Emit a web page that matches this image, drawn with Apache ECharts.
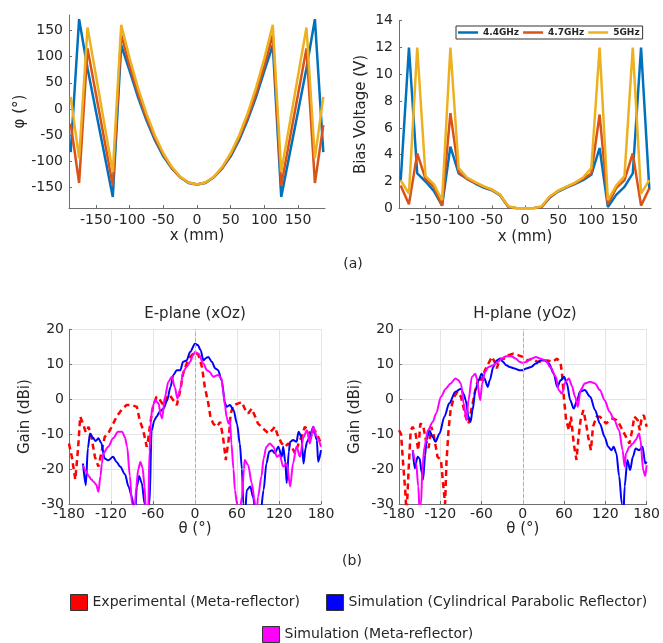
<!DOCTYPE html>
<html><head><meta charset="utf-8">
<script src="https://cdn.jsdelivr.net/npm/echarts@6/dist/echarts.min.js"></script>
<style>html,body{margin:0;padding:0;background:#fff}#c{width:663px;height:643px}</style>
</head><body><div id="c"></div>
<script>
// ---------- (a) element positions (mm) ----------
const posX = [-187.5,-175,-162.5,-150,-137.5,-125,-112.5,-100,-87.5,-75,-62.5,-50,-37.5,-25,-12.5,0,12.5,25,37.5,50,62.5,75,87.5,100,112.5,125,137.5,150,162.5,175,187.5];
// phase (deg)
const phase44 = [-83,172,78,-5,-87,-169,122,73,22,-22,-60,-91,-114,-131,-142,-145,-142,-131,-114,-91,-60,-22,22,73,122,-169,-87,-5,78,172,-83];
const phase47 = [-28,-142,116,28,-59,-147,142,82,29,-17,-56,-88,-113,-131,-141,-145,-141,-131,-113,-88,-56,-17,29,82,142,-147,-59,28,116,-142,-31];
const phase50 = [23,-95,156,64,-29,-121,161,97,40,-9,-51,-85,-111,-130,-141,-145,-141,-130,-111,-85,-51,-9,40,97,161,-121,-29,64,156,-95,23];
// bias voltage (V)
const bias44 = [2.0,12,2.6,2.0,1.3,0.2,4.6,2.6,2.2,1.85,1.55,1.35,0.95,0.1,0,0,0,0.1,0.8,1.25,1.55,1.8,2.1,2.5,4.5,0.1,1.0,1.6,2.6,12,1.4];
const bias47 = [1.7,0.3,4.1,2.2,1.6,0.2,7.1,2.7,2.2,1.9,1.6,1.4,1.0,0.1,0,0,0,0.1,0.85,1.3,1.6,1.85,2.2,2.6,7.0,0.3,1.5,2.1,4.1,0.2,1.5];
const bias50 = [2.1,1.1,12,2.4,1.8,0.6,12,3.0,2.3,1.95,1.65,1.4,1.0,0.15,0,0,0,0.15,0.9,1.3,1.6,1.9,2.3,3.0,12,0.6,1.7,2.4,12,1.1,2.1];
const freqNames = ['4.4GHz','4.7GHz','5GHz'];
const xmmTicks = [-150,-100,-50,0,50,100,150];
const phaseTicks = [-150,-100,-50,0,50,100,150];

// ---------- (b) radiation patterns: [theta (deg), gain (dBi)] ----------
const eExp = [[-180,-12.7],[-176,-16.5],[-171,-23],[-167,-14],[-164,-5],[-160,-7],[-156,-9.5],[-152,-7.9],[-148,-10.8],[-143,-16.5],[-138,-19.3],[-133,-14.6],[-129,-10.8],[-124,-9.8],[-119,-7.9],[-112,-5],[-105,-3.1],[-98,-1.7],[-90,-1.7],[-83,-2.2],[-79,-6],[-74,-8.9],[-69,-13.6],[-67,-11.7],[-64,-7],[-60,-2.2],[-55,0.7],[-50,-0.3],[-45,-1.7],[-40,0.7],[-36,1.1],[-31,-0.3],[-26,-1.7],[-21,2.6],[-17,7.3],[-12,10.2],[-7,12.1],[0,13.5],[5,12.6],[10,9.2],[14,3.5],[19,-1.2],[22,-5],[26,-7],[31,-7.9],[36,-6.5],[40,-10.8],[44,-17.4],[48,-11.7],[51,-4.1],[55,-1.7],[62,-1.2],[67,-0.8],[71,-2.7],[76,-4.1],[81,-2.7],[86,-5],[90,-7],[95,-7.9],[100,-8.9],[105,-9.8],[110,-8.9],[114,-7.9],[119,-10.8],[124,-12.7],[129,-13.6],[133,-12.7],[138,-13.6],[143,-15.5],[148,-12.7],[152,-10.8],[157,-7.9],[162,-8.9],[167,-10.8],[171,-8.9],[176,-10.8],[180,-12.7]];
const eCyl = [[-160,-18.4],[-156,-24.6],[-153,-14],[-150,-9.8],[-146,-11],[-142,-12],[-138,-11.2],[-134,-12.5],[-129,-17],[-124,-17.5],[-117,-16.5],[-112,-18],[-107,-19.3],[-100,-21.5],[-95,-25],[-90,-28],[-86,-34],[-83,-25],[-80,-22],[-76,-24],[-72,-30],[-69,-35],[-65,-30],[-62,-9],[-58,-6],[-55,-5],[-50,-3.5],[-45,-2.7],[-40,-0.5],[-35,3.5],[-31,6.9],[-26,8.3],[-21,8.3],[-17,10.7],[-12,11.1],[-7,13.5],[0,15.9],[4,15.5],[8,14],[12,11.1],[16,11.8],[19,12.1],[24,10.7],[29,8.8],[33,8.3],[38,5.4],[43,-1.2],[45,-2.2],[50,-1.7],[55,-3.1],[60,-7],[64,-12.7],[67,-20],[69,-30],[71,-35],[74,-26],[79,-25],[83,-28],[87,-33],[93,-34],[98,-26],[102,-18.4],[106,-15],[110,-14.6],[114,-15.5],[119,-13.6],[124,-16.5],[126,-13.6],[129,-18],[131,-24],[134,-15],[136,-12.2],[140,-11.7],[145,-12.2],[148,-9.3],[152,-10.8],[155,-18.4],[158,-14],[160,-12.2],[164,-10.8],[169,-7.9],[174,-11.7],[176,-17.9],[180,-14.6]];
const eMeta = [[-160,-18.9],[-156,-20.5],[-152,-22],[-148,-23],[-145,-23.6],[-141,-24.5],[-138,-26.5],[-135,-22],[-133,-18.4],[-131,-15.5],[-124,-13.6],[-117,-11.2],[-110,-9.3],[-104,-9.3],[-100,-11],[-97,-13.6],[-93,-22],[-90,-30],[-87,-36],[-84,-25],[-81,-20],[-78,-18],[-75,-19.5],[-72,-25],[-70,-33],[-67,-33],[-65,-15],[-63,-6],[-61,-2.5],[-57,-0.3],[-52,-1.2],[-49,-4.6],[-47,-5.5],[-43,0.7],[-38,5],[-33,6.4],[-29,3.5],[-25,0.2],[-21,3],[-17,7.8],[-12,9.2],[-7,10.7],[-3,12.5],[0,13.5],[5,13],[12,10.2],[17,8.3],[21,7.8],[26,6.4],[33,6.9],[38,5.9],[40,2.6],[43,-2],[45,-5],[48,-7],[50,-6],[52,-12.7],[55,-20],[57,-26],[60,-30],[63,-34],[67,-28],[70,-20],[71,-17.4],[76,-18.9],[81,-24],[86,-30],[88,-33],[90,-28],[95,-22],[98,-17],[102,-13.6],[107,-12.7],[112,-13.6],[117,-16.5],[121,-16],[126,-19.3],[131,-18.4],[136,-25],[140,-18.4],[145,-13.6],[150,-16.5],[155,-10.8],[160,-8.9],[164,-12.7],[169,-7.9],[174,-10.8],[180,-13.6]];
const hExp = [[-180,-8.9],[-177,-10],[-174,-18.4],[-171,-26],[-169,-33],[-166,-20],[-163,-8.9],[-160,-7.9],[-156,-9.8],[-152,-14.6],[-149,-7],[-145,-7.4],[-141,-11.7],[-137,-14],[-133,-7.9],[-129,-10.8],[-124,-16.5],[-119,-17.4],[-116,-24],[-113,-30],[-111,-18],[-108,-8.9],[-105,-3.1],[-100,0.7],[-95,2.1],[-90,0.7],[-83,-5],[-79,-7],[-74,-2.2],[-69,2.6],[-64,6.4],[-60,5.4],[-55,8.3],[-50,10.2],[-45,12.1],[-41,10.7],[-38,8.8],[-33,11.6],[-28,11.5],[-21,12.6],[-14,13],[-7,12.6],[0,12.1],[7,11.1],[14,11.6],[21,10.7],[29,10.7],[36,11.1],[43,10.7],[50,11.6],[55,10.2],[57,7.3],[60,-0.3],[63,-6],[67,-8.9],[70,-5],[74,-12.7],[78,-17.4],[81,-10.8],[84,-6],[88,-3.1],[92,-7],[95,-10.8],[99,-14.6],[102,-7.9],[107,-5],[112,-5],[117,-6],[121,-7],[126,-6],[131,-5.5],[136,-6],[140,-7],[145,-8.9],[150,-10.8],[155,-12.7],[159,-8.9],[162,-5],[167,-6],[170,-8.9],[173,-5],[176,-4.6],[180,-7.9]];
const hCyl = [[-160,-14.6],[-157,-19.8],[-153,-16.5],[-150,-17],[-147,-21],[-145,-23],[-142,-16],[-140,-11.7],[-136,-8.9],[-131,-10.8],[-127,-12.2],[-121,-9.8],[-114,-5],[-107,-1.2],[-98,2.1],[-90,3],[-86,1.5],[-83,-0.3],[-79,-5],[-76,-6.5],[-73,-3.1],[-69,2.6],[-64,5.4],[-60,7.3],[-56,6],[-51,3.5],[-48,5.4],[-43,9.2],[-38,11.1],[-33,11.6],[-29,10.7],[-24,9.7],[-19,9.2],[-12,8.8],[-5,8.3],[0,8.3],[5,8.8],[12,9.2],[19,10.2],[26,11.1],[33,11.1],[38,10.2],[45,7.3],[50,3.5],[55,5.4],[60,6.4],[64,4.5],[69,-0.3],[74,-2.7],[79,-0.3],[83,2.1],[90,2.6],[98,0.7],[105,-3.1],[112,-7],[119,-10.8],[124,-13.6],[129,-14.6],[132,-13.6],[136,-15.5],[140,-22],[144,-30],[146,-35],[148,-25],[152,-17.4],[156,-20.3],[160,-16.5],[164,-14.1],[169,-14.6],[174,-13.6],[178,-18.4],[180,-17.9]];
const hMeta = [[-160,-14.6],[-155,-18.4],[-152,-25],[-150,-32],[-148,-30],[-146,-20],[-143,-13.6],[-138,-8.9],[-131,-6.5],[-126,-4.1],[-119,0.7],[-112,3],[-105,4.5],[-98,5.9],[-94,5.5],[-90,4.5],[-86,-1.2],[-82,-6],[-79,-0.3],[-74,6.4],[-69,7.3],[-67,5.9],[-62,-0.3],[-59,4.5],[-55,7.8],[-50,9.2],[-43,9.7],[-36,10.7],[-31,11.6],[-24,12.3],[-17,12.3],[-10,11.6],[-5,10.7],[0,10.4],[5,10.7],[12,11.6],[19,12.1],[26,11.6],[33,11.1],[40,9.2],[48,6.4],[52,2.6],[57,1.6],[62,5],[67,5.9],[71,4],[76,0.7],[80,-2.2],[84,2.6],[90,4.5],[98,5],[105,4.5],[112,2.6],[119,-0.3],[126,-3.6],[133,-6],[140,-8.9],[145,-14.6],[148,-19.3],[150,-15.5],[155,-13.6],[160,-12.7],[164,-11.7],[169,-9.8],[171,-11.7],[175,-20.3],[178,-22],[180,-18.9]];
const patNames = ['Experimental (Meta-reflector)','Simulation (Cylindrical Parabolic Reflector)','Simulation (Meta-reflector)'];

const FONT = '"DejaVu Sans", sans-serif';
const TXT = '#262626';
const AX = '#6e6e6e';

function pairs(xs, ys){ return xs.map((x,i)=>[x, ys[i]]); }

function topX(gi){
  return {gridIndex:gi, type:'value', min:-190, max:190,
    axisLine:{show:true, onZero:false, lineStyle:{color:AX}},
    axisTick:{show:true, inside:true, length:3, customValues:xmmTicks, lineStyle:{color:AX}},
    axisLabel:{customValues:xmmTicks, fontSize:14, color:TXT, margin:5, fontFamily:FONT},
    splitLine:{show:false},
    name:'x (mm)', nameLocation:'middle', nameGap:21, nameTextStyle:{fontSize:15, color:TXT, fontFamily:FONT}};
}
function botX(gi){
  return {gridIndex:gi, type:'value', min:-180, max:180, interval:60,
    axisLine:{show:true, onZero:false, lineStyle:{color:AX}},
    axisTick:{show:true, inside:true, length:3, lineStyle:{color:AX}},
    axisLabel:{fontSize:14, color:TXT, margin:3, fontFamily:FONT},
    splitLine:{show:true, lineStyle:{color:'#e4e4e4', width:1}},
    name:'θ (°)', nameLocation:'middle', nameGap:18, nameTextStyle:{fontSize:15, color:TXT, fontFamily:FONT}};
}
function botY(gi){
  return {gridIndex:gi, type:'value', min:-30, max:20, interval:10,
    axisLine:{show:true, onZero:false, lineStyle:{color:AX}},
    axisTick:{show:true, inside:true, length:3, lineStyle:{color:AX}},
    axisLabel:{fontSize:14, color:TXT, margin:5, fontFamily:FONT},
    splitLine:{show:true, lineStyle:{color:'#e4e4e4', width:1}},
    name:'Gain (dBi)', nameLocation:'middle', nameGap:36, nameTextStyle:{fontSize:15, color:TXT, fontFamily:FONT}};
}
function line(name, gi, data, color, width, extra){
  return Object.assign({type:'line', name, xAxisIndex:gi, yAxisIndex:gi, data, symbol:'none',
    lineStyle:{color, width}, itemStyle:{color}, animation:false, clip:true}, extra||{});
}
const topColors = ['#0072BD','#D95319','#EDB120'];
const patColors = ['#FF0000','#0000FF','#FF00FF'];
const zeroMark = {silent:true, symbol:['none','none'], label:{show:false},
  lineStyle:{type:'dashed', color:'#b0b0b0', width:1}, data:[{xAxis:0}], animation:false};

const series = [];
[phase44, phase47, phase50].forEach((v,i)=>series.push(line(freqNames[i],0,pairs(posX,v),topColors[i],2.5)));
[bias44, bias47, bias50].forEach((v,i)=>series.push(line(freqNames[i],1,pairs(posX,v),topColors[i],2.5)));
[[eExp,eCyl,eMeta],[hExp,hCyl,hMeta]].forEach((set,k)=>{
  const gi = 2+k;
  series.push(line(patNames[0],gi,set[0],patColors[0],2.5,{lineStyle:{color:patColors[0],width:2.5,type:[6,4]}, markLine:zeroMark}));
  series.push(line(patNames[1],gi,set[1],patColors[1],2,{smooth:0.3, smoothMonotone:'x'}));
  series.push(line(patNames[2],gi,set[2],patColors[2],2,{smooth:0.3, smoothMonotone:'x'}));
});

const option = {
  backgroundColor:'#fff',
  textStyle:{fontFamily:FONT},
  grid:[
    {left:69, top:15, width:256, height:193},
    {left:399, top:20.7, width:252, height:187.6},
    {left:69, top:329.3, width:252, height:174.7},
    {left:399, top:329.3, width:252, height:174.7}
  ],
  xAxis:[topX(0), topX(1), botX(2), botX(3)],
  yAxis:[
    {gridIndex:0, type:'value', min:-190, max:180,
      axisLine:{show:true, onZero:false, lineStyle:{color:AX}},
      axisTick:{show:true, inside:true, length:3, customValues:phaseTicks, lineStyle:{color:AX}},
      axisLabel:{customValues:phaseTicks, fontSize:14, color:TXT, margin:6, fontFamily:FONT},
      splitLine:{show:false},
      name:'φ (°)', nameLocation:'middle', nameGap:41, nameTextStyle:{fontSize:15, color:TXT, fontFamily:FONT}},
    {gridIndex:1, type:'value', min:0, max:14, interval:2,
      axisLine:{show:true, onZero:false, lineStyle:{color:AX}},
      axisTick:{show:true, inside:true, length:3, lineStyle:{color:AX}},
      axisLabel:{fontSize:14, color:TXT, margin:6, fontFamily:FONT},
      splitLine:{show:false},
      name:'Bias Voltage (V)', nameLocation:'middle', nameGap:30, nameTextStyle:{fontSize:15, color:TXT, fontFamily:FONT}},
    botY(2), botY(3)
  ],
  legend:[
    {data:freqNames, left:456, top:26, icon:'rect', itemWidth:20, itemHeight:2.5, itemGap:4,
      padding:[2,3,2,2], borderColor:'#333', borderWidth:1, backgroundColor:'#fff',
      textStyle:{fontSize:9, fontWeight:'bold', color:TXT, fontFamily:FONT}, selectedMode:false},
    {data:patNames.slice(0,2), left:65, top:589, icon:'rect', itemWidth:17, itemHeight:16, itemGap:26,
      itemStyle:{borderColor:'#333', borderWidth:1}, textStyle:{fontSize:14, color:TXT, fontFamily:FONT}, selectedMode:false},
    {data:patNames.slice(2), left:257, top:621, icon:'rect', itemWidth:17, itemHeight:16,
      itemStyle:{borderColor:'#333', borderWidth:1}, textStyle:{fontSize:14, color:TXT, fontFamily:FONT}, selectedMode:false}
  ],
  graphic:[
    {type:'text', x:195, y:314, style:{text:'E-plane (xOz)', align:'center', verticalAlign:'middle', textAlign:'center', textVerticalAlign:'middle', font:'15px "DejaVu Sans"', fill:TXT}},
    {type:'text', x:525, y:314, style:{text:'H-plane (yOz)', align:'center', verticalAlign:'middle', textAlign:'center', textVerticalAlign:'middle', font:'15px "DejaVu Sans"', fill:TXT}},
    {type:'text', x:353, y:264, style:{text:'(a)', align:'center', verticalAlign:'middle', textAlign:'center', textVerticalAlign:'middle', font:'14px "DejaVu Sans"', fill:TXT}},
    {type:'text', x:352, y:561, style:{text:'(b)', align:'center', verticalAlign:'middle', textAlign:'center', textVerticalAlign:'middle', font:'14px "DejaVu Sans"', fill:TXT}}
  ],
  series
};
const chart = echarts.init(document.getElementById('c'), null, {renderer:'canvas'});
chart.setOption(option);
</script></body></html>
